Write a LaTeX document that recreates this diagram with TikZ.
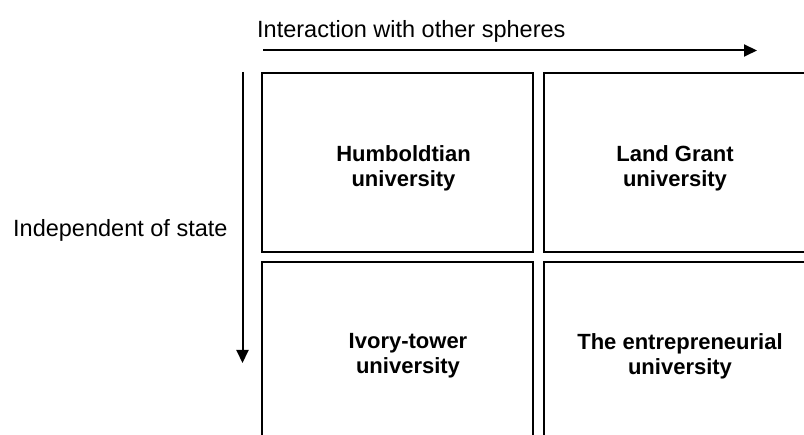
\documentclass[tikz,border=0pt]{standalone}
\usepackage{fontspec}
\setmainfont{Liberation Sans}
\usetikzlibrary{arrows.meta}
\begin{document}
\begin{tikzpicture}[x=1pt,y=-1pt,
  cell/.style={draw=black, line width=2pt, fill=white, inner sep=0pt},
  axislabel/.style={inner sep=0pt, anchor=base west, font=\fontsize{23.5}{27}\selectfont},
  celllabel/.style={inner sep=0pt, anchor=north, align=center, font=\fontsize{22}{25}\selectfont\bfseries},
  axis/.style={line width=2pt, -{Triangle[length=13pt,width=12pt]}}]
  \clip (0,0) rectangle (804,435);
  \fill[white] (0,0) rectangle (804,435);

  % four quadrants (right and bottom ones run off the page)
  \node[cell, minimum width=271pt, minimum height=179pt] (tl) at (397.5,162.5) {};
  \node[cell, minimum width=300pt, minimum height=179pt] (tr) at (694,162.5) {};
  \node[cell, minimum width=271pt, minimum height=200pt] (bl) at (397.5,362) {};
  \node[cell, minimum width=300pt, minimum height=200pt] (br) at (694,362) {};

  % quadrant titles
  \node[celllabel] (hum) at (403.5,145) {Humboldtian\\university};
  \node[celllabel] (land) at (675,145) {Land Grant\\university};
  \node[celllabel] (ivory) at (408,333) {Ivory-tower\\university};
  \node[celllabel] (entr) at (680,333) {The entrepreneurial\\university};

  % axes
  \node[axislabel] (xlab) at (257,38) {Interaction with other spheres};
  \node[axislabel] (ylab) at (13,237) {Independent of state};
  \coordinate (xs) at (263,50.5);
  \coordinate (xe) at (757,50.5);
  \coordinate (ys) at (242.5,72);
  \coordinate (ye) at (242.5,363);
  \draw[axis] (xs) -- (xe);
  \draw[axis] (ys) -- (ye);
\end{tikzpicture}
\end{document}
